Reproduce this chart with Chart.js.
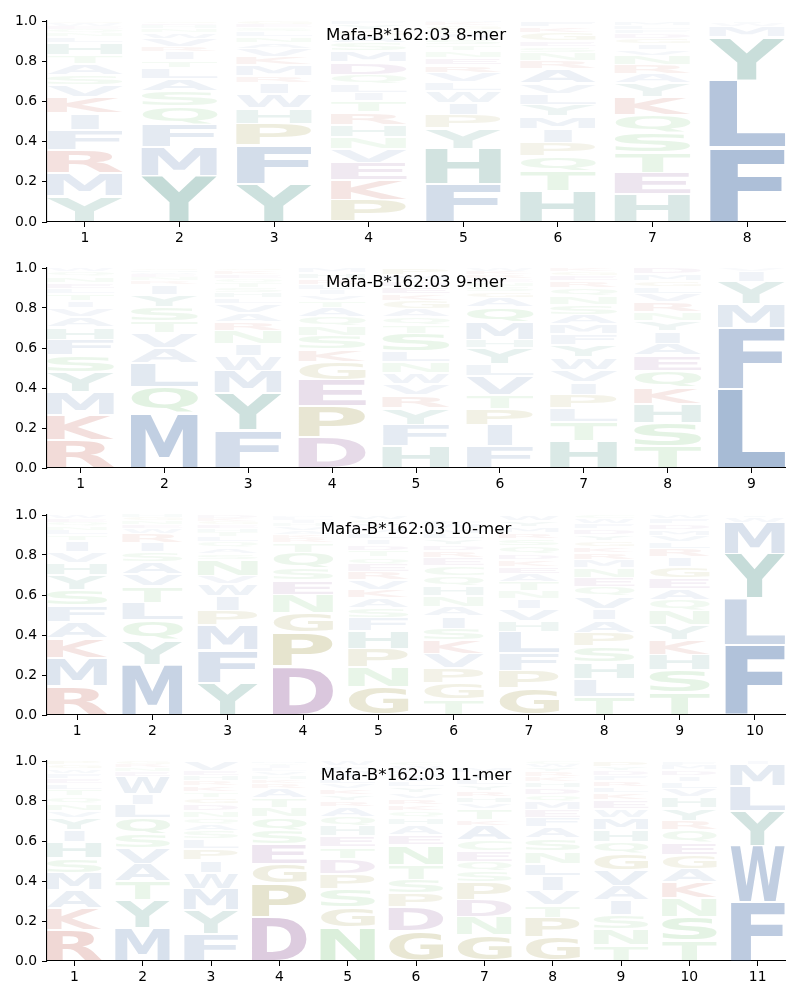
<!DOCTYPE html>
<html lang="en">
<head>
<meta charset="UTF-8">
<title>Mafa-B*162:03 logos</title>
<script src="https://cdn.jsdelivr.net/npm/chart.js"></script>
<style>
  body { margin: 0; background: #fff; }
  .panel { position: absolute; left: 0; }
</style>
</head>
<body>
<canvas class="panel" id="logo8" width="800" height="247" style="top:0px"></canvas>
<canvas class="panel" id="logo9" width="800" height="246" style="top:247px"></canvas>
<canvas class="panel" id="logo10" width="800" height="246" style="top:494px"></canvas>
<canvas class="panel" id="logo11" width="800" height="246" style="top:740px"></canvas>
<script>
// letters of each column, bottom to top, and their stacked heights
const letters8 = ["YMRFIKVSATHLNQEWG", "YMFQSALTIRVWNHEG", "YFPHWIRMKVANLSEG", "PKEVNHRTILQDMSAGYF",
  "FHYPIWLVRENTSAQGKM", "HTQPIMYLVARNSEGKF", "HETSQKYARNVIGDFLM", "FLYMWI"];
const heights8 = [
  [0.13, 0.115, 0.115, 0.1, 0.08, 0.08, 0.06, 0.05, 0.055, 0.045, 0.06, 0.03, 0.02, 0.02, 0.015, 0.015, 0.01],
  [0.23, 0.145, 0.11, 0.09, 0.075, 0.063, 0.055, 0.038, 0.04, 0.027, 0.04, 0.03, 0.02, 0.015, 0.012, 0.01],
  [0.19, 0.19, 0.11, 0.075, 0.07, 0.055, 0.035, 0.055, 0.04, 0.04, 0.03, 0.03, 0.025, 0.02, 0.02, 0.015],
  [0.108, 0.1, 0.086, 0.07, 0.058, 0.063, 0.06, 0.058, 0.04, 0.04, 0.05, 0.063, 0.055, 0.04, 0.035, 0.03, 0.025, 0.019],
  [0.19, 0.175, 0.1, 0.066, 0.063, 0.058, 0.043, 0.046, 0.038, 0.035, 0.035, 0.03, 0.03, 0.025, 0.025, 0.02, 0.015, 0.006],
  [0.153, 0.1, 0.075, 0.066, 0.068, 0.063, 0.058, 0.056, 0.05, 0.07, 0.04, 0.04, 0.03, 0.03, 0.04, 0.03, 0.031],
  [0.14, 0.106, 0.1, 0.1, 0.088, 0.09, 0.066, 0.046, 0.046, 0.046, 0.03, 0.03, 0.025, 0.025, 0.02, 0.02, 0.022],
  [0.371, 0.335, 0.212, 0.056, 0.015, 0.011]
];
const ticks8 = [1, 2, 3, 4, 5, 6, 7, 8];

const letters9 = ["RKMYSFHAVITLENQW", "MQLAVTSYIRNEWHG", "FYMWINRAVLHSTQEKG", "DPEGKSNQATVILRHM",
  "HFYRVWNLSTQAGKEDMP", "FIPTVLYHMQAGSNERKW", "HTLPIVWYFMASNQREGK", "TSHKQEAIYNRVLGMD", "LFMYIV"];
const heights9 = [
  [0.142, 0.125, 0.112, 0.1, 0.085, 0.078, 0.063, 0.052, 0.042, 0.038, 0.035, 0.025, 0.03, 0.03, 0.025, 0.018],
  [0.275, 0.13, 0.117, 0.077, 0.075, 0.06, 0.07, 0.063, 0.05, 0.02, 0.015, 0.015, 0.012, 0.011, 0.01],
  [0.188, 0.187, 0.112, 0.075, 0.06, 0.065, 0.045, 0.045, 0.045, 0.03, 0.025, 0.025, 0.025, 0.02, 0.02, 0.02, 0.013],
  [0.155, 0.153, 0.133, 0.09, 0.063, 0.067, 0.047, 0.047, 0.047, 0.035, 0.03, 0.025, 0.025, 0.03, 0.03, 0.023],
  [0.112, 0.105, 0.083, 0.063, 0.055, 0.055, 0.055, 0.055, 0.088, 0.045, 0.04, 0.04, 0.04, 0.035, 0.035, 0.03, 0.03, 0.034],
  [0.108, 0.105, 0.083, 0.067, 0.097, 0.058, 0.08, 0.043, 0.087, 0.077, 0.047, 0.03, 0.025, 0.02, 0.02, 0.02, 0.017, 0.015],
  [0.137, 0.093, 0.067, 0.068, 0.063, 0.063, 0.063, 0.063, 0.052, 0.05, 0.047, 0.05, 0.045, 0.04, 0.035, 0.027, 0.02, 0.017],
  [0.108, 0.117, 0.097, 0.08, 0.085, 0.075, 0.06, 0.063, 0.05, 0.043, 0.05, 0.04, 0.035, 0.03, 0.035, 0.032],
  [0.397, 0.302, 0.12, 0.113, 0.053, 0.015]
];
const ticks9 = [1, 2, 3, 4, 5, 6, 7, 8, 9];

const letters10 = ["RMKAFSYHVITLNQEW", "MYQLTVASIRWENGH", "YFMPIWVNSAQLTHEGKD", "DPGNESQTRKAVHILM",
  "GNPHFSAKVREQTDILMYCW", "TGPVKSIANHQCERDYLMWF", "GPFLHVINTAEKDQSRMYW", "TLHSPAIVQENMRKGYDFWC",
  "TSHKYNQAEGIRLVMDFW", "FLYMWI"];
const heights10 = [
  [0.145, 0.142, 0.097, 0.083, 0.08, 0.077, 0.075, 0.063, 0.052, 0.055, 0.03, 0.025, 0.02, 0.02, 0.02, 0.016],
  [0.25, 0.123, 0.1, 0.087, 0.083, 0.06, 0.06, 0.05, 0.047, 0.047, 0.025, 0.02, 0.02, 0.015, 0.013],
  [0.162, 0.162, 0.125, 0.072, 0.072, 0.063, 0.04, 0.08, 0.03, 0.03, 0.028, 0.025, 0.025, 0.02, 0.02, 0.015, 0.015, 0.016],
  [0.242, 0.17, 0.097, 0.093, 0.07, 0.06, 0.08, 0.047, 0.025, 0.02, 0.02, 0.02, 0.015, 0.015, 0.013, 0.008],
  [0.138, 0.1, 0.093, 0.087, 0.065, 0.05, 0.05, 0.043, 0.047, 0.04, 0.04, 0.035, 0.035, 0.03, 0.03, 0.025, 0.025, 0.025, 0.02, 0.022],
  [0.078, 0.083, 0.072, 0.072, 0.067, 0.06, 0.06, 0.05, 0.052, 0.05, 0.05, 0.05, 0.04, 0.035, 0.03, 0.03, 0.025, 0.025, 0.025, 0.021],
  [0.133, 0.088, 0.088, 0.105, 0.055, 0.063, 0.047, 0.04, 0.047, 0.04, 0.035, 0.035, 0.03, 0.04, 0.035, 0.03, 0.03, 0.03, 0.029],
  [0.092, 0.088, 0.083, 0.08, 0.068, 0.063, 0.055, 0.063, 0.047, 0.047, 0.047, 0.042, 0.035, 0.03, 0.03, 0.03, 0.03, 0.025, 0.025, 0.02],
  [0.112, 0.112, 0.078, 0.075, 0.072, 0.072, 0.055, 0.055, 0.055, 0.055, 0.047, 0.04, 0.035, 0.035, 0.03, 0.03, 0.025, 0.02],
  [0.35, 0.233, 0.222, 0.158, 0.028, 0.009]
];
const ticks10 = [1, 2, 3, 4, 5, 6, 7, 8, 9, 10];

const letters11 = ["RKAMSHIYVNQTLEFWGP", "MYTAVSQLIWENRG", "FYMWIPLSAQNDGTKRHEV", "DPGESQNTARKHVLIYM",
  "NGSPDTEHQARYKVLIMFW", "GDPSTNEAHQKRVYLIMFWC", "GNDPSQECAKTVHRYLIM", "GPTVILNSAFEMQDHKRYWC",
  "TNSIAVGQHMWEKLRFDYP", "TSNKAGEQRYHVLIDMF", "FWYLMI"];
const heights11 = [
  [0.157, 0.108, 0.088, 0.088, 0.072, 0.08, 0.06, 0.062, 0.035, 0.038, 0.035, 0.035, 0.03, 0.025, 0.025, 0.022, 0.02, 0.02],
  [0.167, 0.137, 0.093, 0.088, 0.08, 0.068, 0.08, 0.067, 0.055, 0.088, 0.025, 0.02, 0.017, 0.015],
  [0.137, 0.117, 0.105, 0.08, 0.063, 0.057, 0.05, 0.04, 0.035, 0.03, 0.035, 0.035, 0.03, 0.03, 0.03, 0.025, 0.025, 0.025, 0.05],
  [0.22, 0.168, 0.097, 0.1, 0.067, 0.068, 0.047, 0.047, 0.047, 0.025, 0.02, 0.02, 0.02, 0.015, 0.015, 0.012, 0.01],
  [0.167, 0.1, 0.092, 0.077, 0.075, 0.057, 0.055, 0.052, 0.047, 0.047, 0.03, 0.03, 0.03, 0.025, 0.025, 0.025, 0.02, 0.02, 0.026],
  [0.15, 0.117, 0.07, 0.07, 0.075, 0.097, 0.05, 0.05, 0.035, 0.035, 0.03, 0.03, 0.03, 0.03, 0.025, 0.025, 0.02, 0.02, 0.02, 0.021],
  [0.128, 0.092, 0.085, 0.088, 0.055, 0.047, 0.055, 0.055, 0.072, 0.03, 0.055, 0.03, 0.03, 0.03, 0.03, 0.03, 0.03, 0.028],
  [0.117, 0.1, 0.063, 0.072, 0.072, 0.063, 0.063, 0.063, 0.055, 0.047, 0.04, 0.04, 0.035, 0.035, 0.03, 0.025, 0.025, 0.02, 0.02, 0.015],
  [0.078, 0.08, 0.072, 0.072, 0.072, 0.08, 0.083, 0.06, 0.058, 0.06, 0.045, 0.045, 0.035, 0.03, 0.03, 0.025, 0.025, 0.02, 0.03],
  [0.103, 0.117, 0.093, 0.08, 0.067, 0.068, 0.063, 0.063, 0.047, 0.063, 0.055, 0.04, 0.035, 0.03, 0.03, 0.025, 0.021],
  [0.295, 0.28, 0.175, 0.125, 0.108, 0.017]
];
const ticks11 = [1, 2, 3, 4, 5, 6, 7, 8, 9, 10, 11];

const yTicks = [0, 0.2, 0.4, 0.6, 0.8, 1.0];

// colour groups
const groupColors = [
  ['AVLIMFW', [72, 112, 168]],
  ['YH', [48, 128, 115]],
  ['KR', [182, 62, 46]],
  ['DE', [130, 68, 140]],
  ['PG', [138, 128, 30]],
  ['STNQC', [85, 180, 85]]
];
function letterColor(ch, h) {
  let rgb = [120, 120, 120];
  groupColors.forEach(g => { if (g[0].includes(ch)) rgb = g[1]; });
  const a = Math.min(1, 0.02 + 1.15 * h);
  return `rgba(${rgb[0]},${rgb[1]},${rgb[2]},${a.toFixed(3)})`;
}

const GLYPH_FONT = 'bold 100px "DejaVu Sans"';

function drawGlyph(ctx, ch, left, top, w, h, color) {
  ctx.font = GLYPH_FONT;
  const m = ctx.measureText(ch);
  const e = ctx.measureText('E');
  const gw = m.actualBoundingBoxLeft + m.actualBoundingBoxRight;
  const gh = m.actualBoundingBoxAscent + m.actualBoundingBoxDescent;
  const ew = e.actualBoundingBoxLeft + e.actualBoundingBoxRight;
  // narrow letters are not stretched wider than an E would be
  const sx = Math.min(w / gw, w / ew);
  const sy = h / gh;
  ctx.save();
  ctx.translate(left + (w - gw * sx) / 2, top);
  ctx.scale(sx, sy);
  ctx.fillStyle = color;
  ctx.textAlign = 'left';
  ctx.textBaseline = 'alphabetic';
  ctx.fillText(ch, m.actualBoundingBoxLeft, m.actualBoundingBoxAscent);
  ctx.restore();
}

const glyphPlugin = {
  id: 'glyphs',
  afterDatasetsDraw(chart) {
    const ctx = chart.ctx;
    const letters = chart.config.options.plugins.glyphs.letters;
    chart.data.datasets.forEach((ds, k) => {
      const meta = chart.getDatasetMeta(k);
      meta.data.forEach((bar, i) => {
        const ch = letters[i][k];
        const v = ds.data[i].y;
        if (!ch || !v) return;
        const top = Math.min(bar.y, bar.base);
        const hpx = Math.abs(bar.base - bar.y);
        const pad = Math.min(1, hpx * 0.15);
        drawGlyph(ctx, ch, bar.x - bar.width / 2, top + pad, bar.width, hpx - 2 * pad, letterColor(ch, v));
      });
    });
  }
};

const titlePlugin = {
  id: 'innerTitle',
  afterDraw(chart) {
    const a = chart.chartArea;
    const ctx = chart.ctx;
    ctx.save();
    ctx.font = '16.7px "DejaVu Sans"';
    ctx.fillStyle = '#000';
    ctx.textAlign = 'center';
    ctx.textBaseline = 'middle';
    ctx.fillText(chart.config.options.plugins.innerTitle.text, (a.left + a.right) / 2, a.top + 15);
    ctx.restore();
  }
};

function makeLogo(id, title, letters, heights, ticks) {
  const depth = Math.max(...letters.map(s => s.length));
  const datasets = [];
  for (let k = 0; k < depth; k++) {
    datasets.push({
      data: ticks.map((t, i) => ({ x: t, y: heights[i][k] || 0 })),
      backgroundColor: 'rgba(0,0,0,0)',
      borderWidth: 0
    });
  }
  new Chart(document.getElementById(id), {
    type: 'bar',
    data: { datasets: datasets },
    plugins: [glyphPlugin, titlePlugin],
    options: {
      responsive: false,
      animation: false,
      events: [],
      categoryPercentage: 1,
      barPercentage: 0.8,
      layout: { padding: { top: 21, right: 15, left: 0, bottom: 0 } },
      plugins: {
        legend: { display: false },
        tooltip: { enabled: false },
        glyphs: { letters: letters },
        innerTitle: { text: title }
      },
      scales: {
        x: {
          type: 'linear',
          stacked: true,
          offset: false,
          min: 0.6,
          max: ticks.length + 0.4,
          afterBuildTicks: s => { s.ticks = ticks.map(v => ({ value: v })); },
          afterFit: s => { s.height = 25; },
          grid: { offset: false, drawOnChartArea: false, tickLength: 5, tickColor: '#000' },
          border: { color: '#000', width: 1.1 },
          ticks: {
            autoSkip: false, maxRotation: 0, padding: 3, color: '#000',
            font: { family: 'DejaVu Sans', size: 13.9 },
            callback: v => v
          }
        },
        y: {
          stacked: true,
          min: 0,
          max: 1,
          afterBuildTicks: s => { s.ticks = yTicks.map(v => ({ value: v })); },
          afterFit: s => { s.width = 47; },
          grid: { drawOnChartArea: false, tickLength: 5, tickColor: '#000' },
          border: { color: '#000', width: 1.1 },
          ticks: {
            padding: 5, color: '#000',
            font: { family: 'DejaVu Sans', size: 13.9 },
            callback: v => v.toFixed(1)
          }
        }
      }
    }
  });
}

makeLogo('logo8', 'Mafa-B*162:03 8-mer', letters8, heights8, ticks8);
makeLogo('logo9', 'Mafa-B*162:03 9-mer', letters9, heights9, ticks9);
makeLogo('logo10', 'Mafa-B*162:03 10-mer', letters10, heights10, ticks10);
makeLogo('logo11', 'Mafa-B*162:03 11-mer', letters11, heights11, ticks11);
</script>
</body>
</html>
